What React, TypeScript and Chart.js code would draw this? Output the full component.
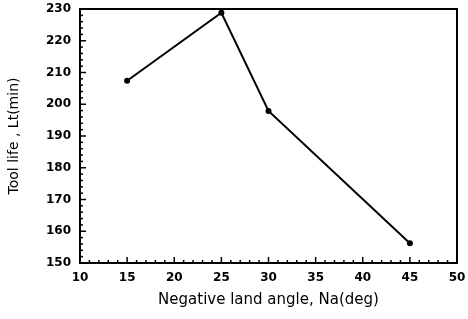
import React, { useEffect, useRef } from "react";
import { Chart, registerables } from "chart.js";

Chart.register(...registerables);

const angles = [15, 25, 30, 45];
const toolLife = [207.4, 228.8, 197.9, 156.2];
const xTicks = [10, 15, 20, 25, 30, 35, 40, 45, 50];
const yTicks = [150, 160, 170, 180, 190, 200, 210, 220, 230];

const FONT = "'DejaVu Sans', sans-serif";

const framePlugin = {
  id: "frame",
  afterDraw(chart: any) {
    const { ctx, chartArea, scales } = chart;
    const x = scales.x;
    const y = scales.y;
    ctx.save();
    ctx.strokeStyle = "#000";
    ctx.lineWidth = 1.5;
    for (let v = x.min; v <= x.max; v += 1) {
      const px = x.getPixelForValue(v);
      const len = v % 5 === 0 ? 6 : 3;
      ctx.beginPath();
      ctx.moveTo(px, chartArea.bottom);
      ctx.lineTo(px, chartArea.bottom - len);
      ctx.stroke();
    }
    for (let v = y.min; v <= y.max; v += 2) {
      const py = y.getPixelForValue(v);
      const len = v % 10 === 0 ? 6 : 3;
      ctx.beginPath();
      ctx.moveTo(chartArea.left, py);
      ctx.lineTo(chartArea.left + len, py);
      ctx.stroke();
    }
    ctx.lineWidth = 2;
    ctx.strokeRect(
      chartArea.left,
      chartArea.top,
      chartArea.right - chartArea.left,
      chartArea.bottom - chartArea.top
    );
    ctx.restore();
  },
};

export default function App() {
  const ref = useRef<HTMLCanvasElement>(null);
  useEffect(() => {
    if (!ref.current) return;
    const chart = new Chart(ref.current, {
      type: "line",
      data: {
        datasets: [
          {
            data: angles.map((a, i) => ({ x: a, y: toolLife[i] })),
            borderColor: "#000",
            backgroundColor: "#000",
            borderWidth: 2,
            pointRadius: 3,
            pointBackgroundColor: "#000",
            pointBorderWidth: 0,
            tension: 0,
          },
        ],
      },
      options: {
        animation: false,
        responsive: false,
        maintainAspectRatio: false,
        layout: { padding: { top: 9, right: 11, left: 0, bottom: 0 } },
        plugins: { legend: { display: false }, tooltip: { enabled: false } },
        scales: {
          x: {
            type: "linear",
            min: xTicks[0],
            max: xTicks[xTicks.length - 1],
            afterBuildTicks: (s: any) => {
              s.ticks = xTicks.map((v) => ({ value: v }));
            },
            afterFit: (s: any) => {
              s.height = 56;
              s.paddingLeft = 0;
              s.paddingRight = 0;
            },
            grid: { display: false, drawTicks: false },
            border: { display: false },
            ticks: {
              padding: 8,
              color: "#000",
              font: { family: FONT, size: 12, weight: "bold" },
              maxRotation: 0,
            },
            title: {
              display: true,
              text: "Negative land angle, Na(deg)",
              color: "#000",
              font: { family: FONT, size: 15 },
              padding: { top: 0, bottom: 10 },
            },
          },
          y: {
            type: "linear",
            min: yTicks[0],
            max: yTicks[yTicks.length - 1],
            afterBuildTicks: (s: any) => {
              s.ticks = yTicks.map((v) => ({ value: v }));
            },
            afterFit: (s: any) => {
              s.width = 80;
              s.paddingTop = 0;
              s.paddingBottom = 0;
            },
            grid: { display: false, drawTicks: false },
            border: { display: false },
            ticks: {
              padding: 9,
              color: "#000",
              font: { family: FONT, size: 12, weight: "bold" },
            },
            title: {
              display: true,
              text: "Tool life , Lt(min)",
              color: "#000",
              font: { family: FONT, size: 14 },
              padding: { top: 6, bottom: 0 },
            },
          },
        },
      },
      plugins: [framePlugin],
    } as any);
    return () => chart.destroy();
  }, []);
  return (
    <div style={{ position: "fixed", left: 0, top: 0, width: 468, height: 319, background: "#fff" }}>
      <canvas ref={ref} width={468} height={319} style={{ width: 468, height: 319 }} />
    </div>
  );
}
